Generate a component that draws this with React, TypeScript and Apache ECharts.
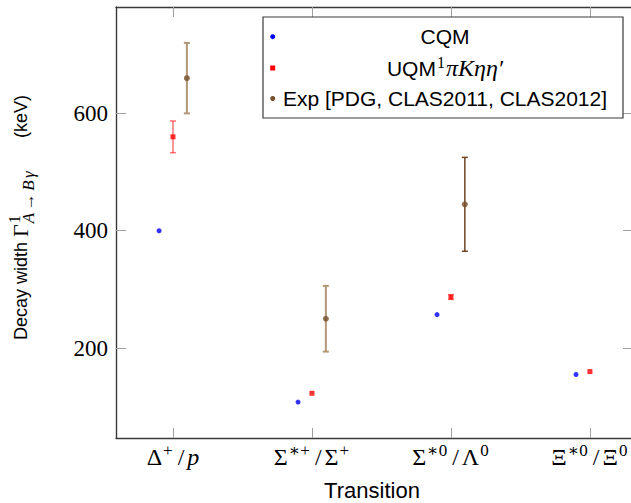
import React, { useEffect, useRef } from 'react';
import * as echarts from 'echarts';

// ---- data ----
const categories = ['Δ+/p', 'Σ*+/Σ+', 'Σ*0/Λ0', 'Ξ*0/Ξ0'];
const categoryLabels = [
  '{n|Δ}{sp|+}{sl|/}{i|p}',
  '{n|Σ}{sp|∗+}{sl|/}{n|Σ}{sp|+}',
  '{n|Σ}{sp|∗0}{sl|/}{n|Λ}{sp|0}',
  '{n|Ξ}{sp|∗0}{sl|/}{n|Ξ}{sp|0}',
];
const cqmValues = [400, 108, 257, 155];
const uqmValues = [560, 123, 287, 160];
const uqmErrors = [27, 0, 4, 0];
const expValues: (number | null)[] = [660, 250, 445, null];
const expErrors: (number | null)[] = [60, 56, 80, null];
const yTicks = [200, 400, 600];
const seriesNames = ['CQM', 'UQM¹πKηη′', 'Exp [PDG, CLAS2011, CLAS2012]'];

// ---- styles ----
const COLOR_CQM = '#0000ff';
const COLOR_UQM = '#ff0000';
const COLOR_EXP = '#74502b';
const expBarColors = ['#b39676', '#b39676', '#6e4526'];
const expBarWidths = [2, 2, 1.5];
const SERIF = '"Liberation Serif", "DejaVu Serif", serif';
const SANS = '"Liberation Sans", Arial, sans-serif';

function measure(text: string, font: string): number {
  const c = document.createElement('canvas').getContext('2d');
  if (!c) return text.length * 9;
  c.font = font;
  return c.measureText(text).width;
}

function buildYTitle() {
  const mainSize = 18;
  const gSize = 22;
  const smallSize = 17;
  const startY = 340; // screen y where text starts
  const endY = 95; // screen y where text ends
  const pieces: any[] = [];
  let x = 0;
  const mainY = 0;
  const subY = 7;
  const supY = -6.5;
  const t1 = 'Decay width ';
  pieces.push({ text: t1, x, y: mainY, font: `${mainSize}px ${SANS}` });
  x += measure(t1, `${mainSize}px ${SANS}`);
  pieces.push({ text: 'Γ', x, y: mainY - 0.5, font: `${gSize}px ${SERIF}` });
  x += measure('Γ', `${gSize}px ${SERIF}`) + 1;
  pieces.push({ text: '1', x, y: supY, font: `${smallSize - 1}px ${SERIF}` });
  const subParts: [string, boolean][] = [['A', true], ['→', false], ['B', true], ['γ', true]];
  for (const [t, it] of subParts) {
    const f = `${it ? 'italic ' : ''}${smallSize}px ${SERIF}`;
    pieces.push({ text: t, x, y: subY, font: f });
    x += measure(t, f) + 2.5;
  }
  const t2 = '(keV)';
  const w2 = measure(t2, `${mainSize}px ${SANS}`);
  pieces.push({ text: t2, x: startY - endY - w2, y: mainY, font: `${mainSize}px ${SANS}` });
  return {
    type: 'group',
    x: 21,
    y: startY,
    rotation: Math.PI / 2,
    children: pieces.map((p) => ({
      type: 'text',
      x: p.x,
      y: p.y,
      style: { text: p.text, font: p.font, fill: '#000', align: 'left', verticalAlign: 'middle' },
    })),
  };
}

function errorBarRender(colors: string[] | string, widths: number[] | number) {
  return (params: any, api: any) => {
    const x = api.value(0);
    const lo = api.value(1);
    const hi = api.value(2);
    const idx = api.value(3);
    const p1 = api.coord([x, hi]);
    const p2 = api.coord([x, lo]);
    const cap = 3;
    const color = Array.isArray(colors) ? colors[idx] : colors;
    const lw = Array.isArray(widths) ? widths[idx] : widths;
    const style = { stroke: color, lineWidth: lw };
    return {
      type: 'group',
      children: [
        { type: 'line', shape: { x1: p1[0], y1: p1[1], x2: p2[0], y2: p2[1] }, style },
        { type: 'line', shape: { x1: p1[0] - cap, y1: p1[1], x2: p1[0] + cap, y2: p1[1] }, style },
        { type: 'line', shape: { x1: p2[0] - cap, y1: p2[1], x2: p2[0] + cap, y2: p2[1] }, style },
      ],
    };
  };
}

export default function App() {
  const ref = useRef<HTMLDivElement>(null);
  useEffect(() => {
    if (!ref.current) return;
    const chart = echarts.init(ref.current, null, { renderer: 'svg' });
    const catIdx = categories.map((_, i) => i);
    const axisLineStyle = { color: '#3a3a3a', width: 1.4 };
    const tickStyle = { color: '#a0a0a0', width: 1 };

    const uqmErrData = uqmValues
      .map((v, i) => [i, v - uqmErrors[i], v + uqmErrors[i], i])
      .filter((d, i) => uqmErrors[i] > 0);
    const expErrData = expValues
      .map((v, i) => (v == null || expErrors[i] == null ? null : [i + 0.1, v - (expErrors[i] as number), v + (expErrors[i] as number), i]))
      .filter((d) => d != null);

    const option: any = {
      animation: false,
      grid: { left: 116, top: 7, width: 517, height: 431, containLabel: false, outerBoundsMode: 'none' },
      xAxis: [
        {
          type: 'value',
          min: -0.41,
          max: 3.31,
          position: 'bottom',
          axisLine: { show: true, onZero: false, lineStyle: axisLineStyle },
          axisTick: { show: true, inside: true, length: 10, customValues: catIdx, lineStyle: tickStyle },
          splitLine: { show: false },
          axisLabel: {
            show: true,
            customValues: catIdx,
            margin: 4,
            formatter: (v: number) => categoryLabels[Math.round(v)] ?? '',
            rich: {
              n: { fontFamily: SERIF, fontSize: 24, lineHeight: 30, color: '#000' },
              i: { fontFamily: SERIF, fontStyle: 'italic', fontSize: 24, lineHeight: 30, color: '#000' },
              sl: { fontFamily: SERIF, fontSize: 24, lineHeight: 30, color: '#000', padding: [0, 3, 0, 4] },
              sp: { fontFamily: SERIF, fontSize: 17, lineHeight: 17, verticalAlign: 'top', color: '#000', padding: [0, 1, 0, 1] },
            },
          },
        },
        {
          type: 'value',
          min: -0.41,
          max: 3.31,
          position: 'top',
          axisLine: { show: true, onZero: false, lineStyle: axisLineStyle },
          axisTick: { show: true, inside: true, length: 10, customValues: catIdx, lineStyle: tickStyle },
          axisLabel: { show: false },
          splitLine: { show: false },
        },
      ],
      yAxis: [
        {
          type: 'value',
          min: 46.8,
          max: 781.2,
          position: 'left',
          axisLine: { show: true, onZero: false, lineStyle: axisLineStyle },
          axisTick: { show: true, inside: true, length: 10, customValues: yTicks, lineStyle: tickStyle },
          axisLabel: { show: true, customValues: yTicks, margin: 8, fontFamily: SERIF, fontSize: 23, color: '#000' },
          splitLine: { show: false },
        },
        {
          type: 'value',
          min: 46.8,
          max: 781.2,
          position: 'right',
          axisLine: { show: true, onZero: false, lineStyle: axisLineStyle },
          axisTick: { show: true, inside: true, length: 10, customValues: yTicks, lineStyle: tickStyle },
          axisLabel: { show: false },
          splitLine: { show: false },
        },
      ],
      series: [
        {
          name: 'UQM error',
          type: 'custom',
          renderItem: errorBarRender('rgba(255,0,0,0.55)', 1.5),
          data: uqmErrData,
          z: 2,
          silent: true,
        },
        {
          name: 'Exp error',
          type: 'custom',
          renderItem: errorBarRender(expBarColors, expBarWidths),
          data: expErrData,
          z: 2,
          silent: true,
        },
        {
          name: seriesNames[0],
          type: 'scatter',
          symbol: 'circle',
          symbolSize: 5,
          itemStyle: { color: COLOR_CQM },
          data: cqmValues.map((v, i) => [i - 0.1, v]),
          z: 3,
        },
        {
          name: seriesNames[1],
          type: 'scatter',
          symbol: 'rect',
          symbolSize: 5,
          itemStyle: { color: COLOR_UQM },
          data: uqmValues.map((v, i) => [i, v]),
          z: 3,
        },
        {
          name: seriesNames[2],
          type: 'scatter',
          symbol: 'circle',
          symbolSize: 6,
          itemStyle: { color: COLOR_EXP },
          data: expValues.map((v, i) => (v == null ? null : [i + 0.1, v])).filter((d) => d != null),
          z: 3,
        },
      ],
      graphic: [
        // legend
        {
          type: 'rect',
          shape: { x: 263, y: 17, width: 360, height: 101 },
          style: { fill: '#fff', stroke: '#3a3a3a', lineWidth: 1.2 },
          z: 10,
        },
        { type: 'circle', shape: { cx: 272.7, cy: 36.7, r: 2.5 }, style: { fill: COLOR_CQM }, z: 11 },
        { type: 'rect', shape: { x: 270.2, y: 65.5, width: 5, height: 5 }, style: { fill: COLOR_UQM }, z: 11 },
        { type: 'circle', shape: { cx: 272.7, cy: 98.5, r: 2.5 }, style: { fill: COLOR_EXP }, z: 11 },
        {
          type: 'text', x: 445, y: 36.7, z: 11,
          style: { text: seriesNames[0], font: `21px ${SANS}`, fill: '#000', align: 'center', verticalAlign: 'middle' },
        },
        {
          type: 'text', x: 445, y: 68, z: 11,
          style: {
            text: '{s|UQM}{sp|1}{m|πKηη′}',
            align: 'center',
            verticalAlign: 'middle',
            rich: {
              s: { fontFamily: SANS, fontSize: 21, lineHeight: 28, color: '#000' },
              sp: { fontFamily: SERIF, fontSize: 16, lineHeight: 16, verticalAlign: 'top', color: '#000', padding: [0, 1, 0, 1] },
              m: { fontFamily: SERIF, fontStyle: 'italic', fontSize: 24, lineHeight: 28, color: '#000' },
            },
          },
        },
        {
          type: 'text', x: 445, y: 98.5, z: 11,
          style: { text: seriesNames[2], font: `21px ${SANS}`, fill: '#000', align: 'center', verticalAlign: 'middle' },
        },
        // x axis title
        {
          type: 'text', x: 372, y: 490, z: 11,
          style: { text: 'Transition', font: `22px ${SANS}`, fill: '#000', align: 'center', verticalAlign: 'middle' },
        },
        buildYTitle(),
      ],
    };
    chart.setOption(option);
    return () => chart.dispose();
  }, []);
  return <div ref={ref} style={{ width: 631, height: 503, position: 'absolute', left: 0, top: 0, background: '#fff' }} />;
}
